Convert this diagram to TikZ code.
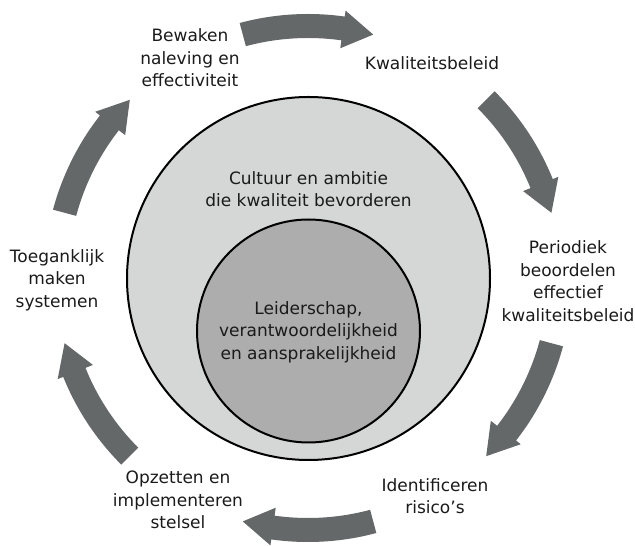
\documentclass[tikz,border=0pt]{standalone}
\usepackage{fontspec}
\setmainfont{DejaVu Sans}
\definecolor{arrowgray}{HTML}{646868}
\definecolor{outerfill}{HTML}{D5D6D6}
\definecolor{innerfill}{HTML}{ADADAD}
\definecolor{txt}{HTML}{1A1A1A}
\newcommand\cyclearrow[3]{%
  \fill[arrowgray] (#1:264) arc[start angle=#1, end angle=#2, radius=264]
    -- (#2:270) -- (#3:252) -- (#2:232) -- (#2:240)
    arc[start angle=#2, end angle=#1, radius=240] -- cycle;}
\begin{document}
\begin{tikzpicture}[x=1pt,y=1pt,
  lbl/.style={align=center, inner sep=0pt, text=txt, font=\fontsize{17}{22.5}\selectfont},
  ring/.style={draw=black, line width=2pt}]
\useasboundingbox (0,0) rectangle (635,546);
\node[ring, fill=outerfill, circle, minimum size=363pt, inner sep=0pt] (outer) at (308.5,267.5) {};
\node[ring, fill=innerfill, circle, minimum size=223pt, inner sep=0pt] (inner) at (308.5,215) {};
\node[lbl] (cult) at (308.5,357) {Cultuur en ambitie\\die kwaliteit bevorderen};
\node[lbl] (lead) at (308.5,214) {Leiderschap,\\verantwoordelijkheid\\en aansprakelijkheid};
\begin{scope}[shift={(308,268)}]
  \cyclearrow{105}{82}{75}
  \cyclearrow{45}{22}{15}
  \cyclearrow{-15}{-38}{-45}
  \cyclearrow{-75}{-98}{-105}
  \cyclearrow{-135}{-158}{-165}
  \cyclearrow{165}{142}{135}
\end{scope}
\node[lbl] (kb) at (432,483) {Kwaliteitsbeleid};
\node[lbl] (per) at (568,265) {Periodiek\\beoordelen\\effectief\\kwaliteitsbeleid};
\node[lbl] (ris) at (435,50) {Identificeren\\risico’s};
\node[lbl] (opz) at (178,46) {Opzetten en\\implementeren\\stelsel};
\node[lbl] (toe) at (57,266) {Toeganklijk\\maken\\systemen};
\node[lbl] (bew) at (190,488) {Bewaken\\naleving en\\effectiviteit};
\end{tikzpicture}
\end{document}
